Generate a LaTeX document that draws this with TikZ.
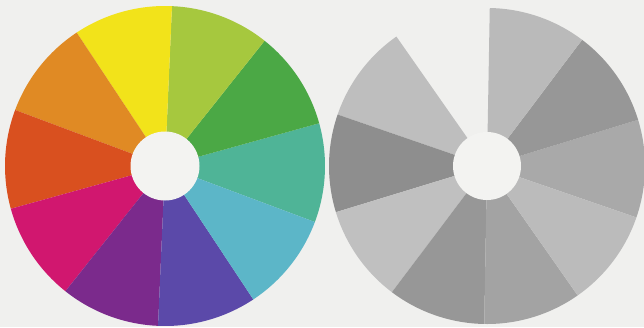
\documentclass[tikz,border=0pt]{standalone}
\usetikzlibrary{calc}
\definecolor{bgc}{HTML}{F0F0EE}
\definecolor{holec}{HTML}{F3F3F1}
\definecolor{cYel}{HTML}{F2E31A}
\definecolor{cYG}{HTML}{A6C83E}
\definecolor{cGrn}{HTML}{4BA845}
\definecolor{cTeal}{HTML}{4FB497}
\definecolor{cCyan}{HTML}{5CB6C8}
\definecolor{cBlue}{HTML}{5B49A9}
\definecolor{cPurp}{HTML}{7B2A8C}
\definecolor{cMag}{HTML}{D1176F}
\definecolor{cRed}{HTML}{D9501F}
\definecolor{cOra}{HTML}{E08A24}
\definecolor{gYG}{HTML}{BABABA}
\definecolor{gGrn}{HTML}{979797}
\definecolor{gTeal}{HTML}{A9A9A9}
\definecolor{gCyan}{HTML}{BBBBBB}
\definecolor{gBlue}{HTML}{A3A3A3}
\definecolor{gPurp}{HTML}{979797}
\definecolor{gMag}{HTML}{C0C0C0}
\definecolor{gRed}{HTML}{8E8E8E}
\definecolor{gOra}{HTML}{BEBEBE}
\tikzset{hole/.style={fill=holec}}
\begin{document}
\begin{tikzpicture}[x=1pt,y=1pt]
\useasboundingbox (0,0) rectangle (644,327);
\fill[bgc] (0,0) rectangle (644,327);
% left colour wheel
\coordinate (L) at (165,161);
\foreach \a/\c in {-20.5/cTeal,15.5/cGrn,51.5/cYG,87.5/cYel,123.5/cOra,159.5/cRed,195.5/cMag,231.5/cPurp,267.5/cBlue,303.5/cCyan}{
  \fill[\c] (L) -- ++(\a:160) arc[start angle=\a,delta angle=36,radius=160] -- cycle;
}
\fill[hole] (L) circle[radius=34.5];
% right grey wheel
\coordinate (R) at (487,161);
\foreach \a/\c in {-19/gTeal,17/gGrn,53/gYG,125/gOra,161/gRed,197/gMag,233/gPurp,269/gBlue,305/gCyan}{
  \fill[\c] (R) -- ++(\a:158) arc[start angle=\a,delta angle=36,radius=158] -- cycle;
}
\fill[hole] (R) circle[radius=34];
\end{tikzpicture}
\end{document}
